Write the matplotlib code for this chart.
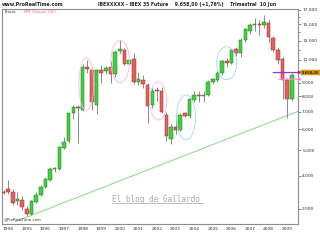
import matplotlib
matplotlib.use("Agg")
import matplotlib.pyplot as plt
import numpy as np
import pandas as pd
from matplotlib.ticker import FixedLocator, NullFormatter
from matplotlib.lines import Line2D
import matplotlib.transforms as mtransforms

# ---------------- data ----------------
quarters = [str(p) for p in pd.period_range("1993Q4", "2009Q2", freq="Q")]
opens = [3470, 3560, 3470, 3200, 3250, 3000, 2870, 3190, 3370, 3630,
         3850, 4230, 4250, 5120, 5400, 6900, 7300, 7110, 10370, 10100,
         7420, 10100, 9980, 10350, 9750, 11900, 11995, 10615, 11040, 9100,
         9250, 8850, 7424, 8470, 8400, 6803, 5500, 6100, 5969, 6900,
         6760, 7756, 8079, 8050, 8100, 9099, 9235, 9840, 10926, 10740,
         12050, 11700, 13090, 14200, 14900, 15100, 14900, 15220, 13280, 11995,
         11060, 9235, 7801]
highs = [3520, 3870, 3570, 3460, 3350, 3070, 3250, 3480, 3680, 3950,
         4310, 4330, 5200, 5600, 6950, 7400, 7450, 10600, 11000, 10300,
         10150, 10500, 10400, 10900, 12000, 13090, 12200, 11100, 11700, 9900,
         9600, 9000, 8600, 8650, 8650, 7000, 6300, 6560, 6900, 7000,
         7900, 8400, 8400, 8350, 9200, 9400, 10000, 11000, 11200, 12100,
         12300, 13300, 14500, 15200, 15900, 15580, 16300, 15600, 13550, 12300,
         11300, 9400, 9800]
lows = [3400, 3420, 3100, 3100, 2960, 2830, 2850, 3150, 3350, 3600,
        3810, 4150, 4200, 5050, 5350, 6550, 5350, 7050, 9800, 7110,
        6860, 9000, 9700, 9000, 9500, 11700, 10500, 10500, 8950, 8800,
        8600, 6330, 7200, 7700, 6900, 5400, 5300, 5760, 5900, 6700,
        6650, 7600, 7600, 7600, 8000, 8900, 9100, 9600, 10300, 10600,
        11400, 11300, 12900, 13800, 14200, 13700, 14500, 12900, 11800, 10600,
        7830, 6600, 7700]
closes = [3440, 3480, 3150, 3260, 3060, 2880, 3200, 3390, 3630, 3880,
          4230, 4280, 5160, 5380, 6900, 7310, 7250, 10370, 10150, 7640,
          10076, 9800, 10230, 9750, 11817, 12050, 10615, 10990, 9100, 9300,
          8950, 7360, 8408, 8350, 7000, 5650, 6144, 5950, 6803, 6760,
          7800, 8079, 8050, 8120, 9099, 9300, 9840, 10926, 10740, 11995,
          11700, 13090, 14360, 14900, 15050, 14900, 15300, 13470, 11995, 10994,
          9235, 7801, 9658]

year_ticks = list(range(1994, 2010))
price_ticks = [17000, 15000, 13000, 11000, 9000, 8000, 7000, 6000, 5000, 4000, 3000]
price_tick_labels = ["17.000", "15.000", "13.000", "11.000", "9.000", "8.000",
                     "7.000", "6.000", "5.000", "4.000", "3.000"]
price_minor = [16000, 14000, 12000, 10000]

trend_dates = [1994.37, 2009.63]
trend_values = [2682, 7045]

# ellipse annotations (center date, center value)
ell_pink_dates = [1998.2, 2000.02, 2002.07]
ell_pink_values = [8900, 10850, 7690]
ell_blue_dates = [2003.56, 2005.75]
ell_blue_values = [6656, 10683]

level_values = [9850, 9300]
level_start_dates = [2008.25, 2008.55]
last_price = 9658
last_label = "9.658,00"

# ---------------- figure ----------------
W, H = 320, 240
fig = plt.figure(figsize=(3.2, 2.4), dpi=100)
fig.patch.set_facecolor("white")
ax_left, ax_right, ax_top, ax_bot = 2, 298, 8.5, 224
ax = fig.add_axes([ax_left / W, (H - ax_bot) / H, (ax_right - ax_left) / W, (ax_bot - ax_top) / H])

def q2t(q):
    y, qq = int(q[:4]), int(q[-1])
    return y + (qq - 1) / 4.0

t = np.array([q2t(q) for q in quarters])
o = np.array(opens, float); h = np.array(highs, float)
l = np.array(lows, float); c = np.array(closes, float)

ax.set_yscale("log")
ax.set_xlim(1993.667, 2009.58)
ax.set_ylim(2628, 17220)

# wicks
ax.vlines(t, l, h, color="#8a8a8a", lw=0.7, zorder=2)
# bodies
up = c >= o
bw = 0.19
bottoms = np.minimum(o, c)
heights = np.maximum(np.abs(c - o), bottoms * 0.007)
ax.bar(t[up], heights[up], bottom=bottoms[up], width=bw, color="#3fd23f",
       edgecolor="#1d7a1d", linewidth=0.35, zorder=3)
ax.bar(t[~up], heights[~up], bottom=bottoms[~up], width=bw, color="#e26262",
       edgecolor="#9a2c2c", linewidth=0.35, zorder=3)

# trend line
ax.plot(trend_dates, trend_values, color="#90e090", lw=0.8, zorder=1)

# ellipses (ellipse in display space: linear in years and log10 value)
th = np.linspace(0, 2 * np.pi, 100)
def draw_ell(tc, vc, hw_years, hh_dec, col):
    xs = tc + hw_years * np.cos(th)
    ys = vc * 10 ** (hh_dec * np.sin(th))
    ax.plot(xs, ys, color=col, lw=0.6, zorder=4)

pink_sizes = [(0.40, 0.099), (0.50, 0.080), (0.46, 0.072)]
for tc, vc, (a, b) in zip(ell_pink_dates, ell_pink_values, pink_sizes):
    draw_ell(tc, vc, a, b, "#ffb6d9")
blue_sizes = [(0.51, 0.085), (0.54, 0.0625)]
for tc, vc, (a, b) in zip(ell_blue_dates, ell_blue_values, blue_sizes):
    draw_ell(tc, vc, a, b, "#9fd6f5")

# horizontal levels with arrows
xmax_t = 2009.58 + 4 / 18.6
for val, st, col in zip(level_values, level_start_dates, ["#9933cc", "#ff8fc8"]):
    ax.annotate("", xy=(xmax_t, val), xytext=(st, val),
                arrowprops=dict(arrowstyle="-|>", color=col, lw=0.9, mutation_scale=4,
                                shrinkA=0, shrinkB=0),
                annotation_clip=False, zorder=5)

# price tag
trans = mtransforms.blended_transform_factory(ax.transAxes, ax.transData)
ax.text(1.014, level_values[0], last_label, transform=trans, fontsize=2.5,
        fontweight="bold", color="#202020", va="center", ha="left", clip_on=False,
        bbox=dict(boxstyle="square,pad=0.2", fc="#e3a400", ec="#c08000", lw=0.3), zorder=6)

# axes styling
for s in ax.spines.values():
    s.set_color("#8c8c8c")
    s.set_linewidth(0.8)
ax.yaxis.tick_right()
ax.set_yticks(price_ticks)
ax.set_yticklabels(price_tick_labels)
ax.yaxis.set_minor_locator(FixedLocator(price_minor))
ax.yaxis.set_minor_formatter(NullFormatter())
ax.tick_params(axis="y", which="major", length=2, width=0.5, colors="#555555",
               labelsize=3.2, labelcolor="#303030", pad=1)
ax.tick_params(axis="y", which="minor", length=1.2, width=0.5, colors="#555555")
ax.set_xticks(year_ticks)
ax.set_xticklabels([str(y) for y in year_ticks])
ax.tick_params(axis="x", length=0, labelsize=3.2, labelcolor="#303030", pad=2.5)

# texts inside plot
ax.text(3 / 296, 1 - 1.4 / 215.5, "Precio", transform=ax.transAxes, fontsize=2.7,
        color="#333333", va="top", ha="left")
ax.text(22 / 296, 1 - 1.4 / 215.5, "MM (Simple 200)", transform=ax.transAxes,
        fontsize=2.7, color="#ff6a6a", va="top", ha="left")
ax.text(1.5 / 296, 2.5 / 215.5, "@ProRealTime.com", transform=ax.transAxes,
        fontsize=2.8, color="#333333", va="bottom", ha="left")

# header
fig.text(2 / W, 1 - 4.2 / H, "www.ProRealTime.com", fontsize=3.4, fontweight="bold",
         color="#222222", va="center", ha="left")
fig.text(187 / W, 1 - 4.2 / H,
         "IBEXXXXX - IBEX 35 Future    9.658,00 (+1,76%)    Trimestral  10 Jun",
         fontsize=3.3, fontweight="bold", color="#222222", va="center", ha="center")

# watermark
fig.text(112 / W, 1 - 199 / H, "El blog de Gallardo", family="DejaVu Sans Mono",
         fontsize=5.6, color="#a9a9a9", va="center", ha="left")
fig.add_artist(Line2D([112 / W, 203 / W], [1 - 202.6 / H, 1 - 202.6 / H],
                      color="#b5b5b5", lw=0.6))

fig.savefig("out.png", dpi=100, facecolor="white")
